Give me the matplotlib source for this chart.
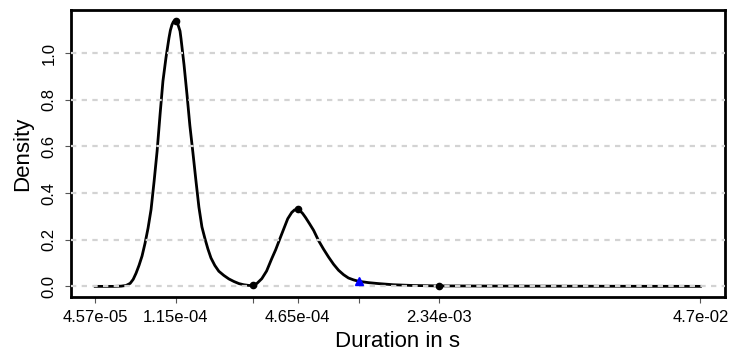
import numpy as np
import matplotlib
matplotlib.use("Agg")
import matplotlib.pyplot as plt

plt.rcParams["font.family"] = ["Liberation Sans", "DejaVu Sans"]

# density of log10(duration)
log_duration = [
    -4.340, -4.295, -4.246, -4.211, -4.186, -4.166, -4.151, -4.137, -4.122,
    -4.107, -4.092, -4.077, -4.062, -4.047, -4.032, -4.017, -4.003, -3.988,
    -3.973, -3.966, -3.958, -3.951, -3.9393, -3.932, -3.928, -3.918, -3.913,
    -3.898, -3.883, -3.869, -3.854,
    -3.839, -3.824, -3.809, -3.794, -3.779, -3.764, -3.745, -3.725, -3.700,
    -3.675, -3.650, -3.625, -3.601, -3.576, -3.556, -3.536, -3.511, -3.487,
    -3.462, -3.442, -3.422, -3.402, -3.382, -3.362, -3.348, -3.3325, -3.323,
    -3.308, -3.293, -3.273, -3.253, -3.229, -3.204, -3.179, -3.154, -3.129,
    -3.104, -3.080, -3.055, -3.030, -2.980, -2.931, -2.856, -2.767, -2.631,
    -2.435, -2.137, -1.839, -1.541, -1.328,
]
density = [
    0.000, 0.000, 0.000, 0.001, 0.004, 0.013, 0.030, 0.056, 0.090,
    0.130, 0.185, 0.250, 0.330, 0.450, 0.580, 0.740, 0.880, 0.980,
    1.065, 1.098, 1.122, 1.135, 1.140, 1.135, 1.122, 1.095, 1.062,
    0.950, 0.820, 0.690, 0.575,
    0.455, 0.340, 0.255, 0.205, 0.160, 0.122, 0.090, 0.065, 0.047,
    0.032, 0.021, 0.012, 0.007, 0.004, 0.004, 0.012, 0.033, 0.066,
    0.118, 0.157, 0.202, 0.246, 0.290, 0.317, 0.328, 0.330, 0.326,
    0.313, 0.295, 0.268, 0.240, 0.197, 0.160, 0.126, 0.095, 0.069,
    0.050, 0.036, 0.028, 0.022, 0.016, 0.012, 0.007, 0.004, 0.002,
    0.0015, 0.001, 0.0006, 0.0003, 0.0001,
]

# marked extrema and the cut point
mark_duration = [1.15e-04, 2.78e-04, 4.65e-04, 2.34e-03]
mark_density = [1.14, 0.004, 0.33, 0.002]
cut_duration = [9.4e-04]
cut_density = [0.022]

tick_duration = [4.57e-05, 1.15e-04, 2.78e-04, 4.65e-04, 9.4e-04, 2.34e-03, 4.7e-02]
tick_labels = ["4.57e-05", "1.15e-04", "", "4.65e-04", "", "2.34e-03", "4.7e-02"]
y_ticks = [0.0, 0.2, 0.4, 0.6, 0.8, 1.0]

fig = plt.figure(figsize=(7.32, 3.54), dpi=100)
ax = fig.add_axes([0.097, 0.161, 0.893, 0.811])

ax.plot(log_duration, density, color="black", linewidth=2.0, zorder=2)

for y in y_ticks:
    ax.axhline(y, color="#d3d3d3", linewidth=1.6, linestyle=(0, (2.4, 2.4)), zorder=3)

ax.plot(np.log10(mark_duration), mark_density, "o", color="black",
        markersize=4.5, zorder=4)
ax.plot(np.log10(cut_duration), cut_density, "^", color="blue",
        markersize=5.5, zorder=4)

span = log_duration[-1] - log_duration[0]
ax.set_xlim(log_duration[0] - 0.04 * span, log_duration[-1] + 0.04 * span)
ax.set_ylim(-0.04 * 1.14, 1.14 * 1.04)

ax.set_xticks(np.log10(tick_duration))
ax.set_xticklabels(tick_labels)
ax.set_yticks(y_ticks)
ax.set_yticklabels([f"{y:.1f}" for y in y_ticks])
for label in ax.get_yticklabels():
    label.set_rotation(90)
    label.set_va("center")

ax.tick_params(axis="both", direction="out", length=4.5, width=0.8,
               color="#555555", labelsize=12)
ax.tick_params(axis="x", pad=5)
ax.tick_params(axis="y", pad=6)

for spine in ax.spines.values():
    spine.set_linewidth(2.0)

ax.set_xlabel("Duration in s", fontsize=16, labelpad=4)
ax.set_ylabel("Density", fontsize=16, labelpad=6)

fig.savefig("out.png", dpi=100)
